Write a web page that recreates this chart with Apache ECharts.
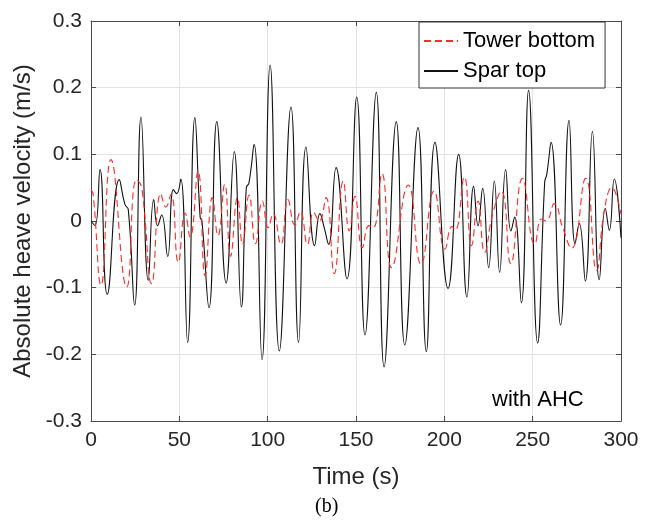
<!DOCTYPE html>
<html>
<head>
<meta charset="utf-8">
<script src="https://cdn.jsdelivr.net/npm/echarts@6/dist/echarts.min.js"></script>
<style>html,body{margin:0;padding:0;background:#fff;}#c{width:652px;height:527px;}</style>
</head>
<body>
<div id="c"></div>
<script>
// Spar top (black solid): [time s, velocity m/s]
const sparTop = [
  [0,0],[2.3,-0.007],[5.1,0.077],[9.2,-0.11],[16.0,0.062],[19.2,0.025],[21.1,0.017],[24.7,-0.126],
  [28.3,0.156],[32.4,-0.089],[35.5,0.032],[37.7,-0.007],[40,0.009],[43.4,-0.053],[46.6,0.047],
  [48.5,0.041],[50.8,0.063],[54.7,-0.182],[58.8,0.155],[61.8,0.005],[62.8,0.0],[66.8,-0.13],
  [71.2,0.149],[76.5,-0.093],[81.1,0.104],[85.1,-0.129],[87.9,0.05],[89.4,0.057],[92.3,0.115],
  [96.8,-0.208],[101.4,0.234],[106.6,-0.195],[113.2,0.171],[117.5,-0.182],[121.7,0.111],
  [126.6,-0.037],[129.6,0.011],[132,-0.01],[134.5,-0.035],[138.7,0.08],[144.9,-0.087],
  [150.4,0.186],[155.1,-0.171],[161.5,0.193],[165.9,-0.219],[172.8,0.149],[177.6,-0.186],
  [185.1,0.14],[189.8,-0.196],[194.7,0.118],[202.1,-0.101],[208.1,0.1],[212.8,-0.114],
  [216.6,0.052],[219.1,-0.007],[221.7,0.049],[225.1,-0.07],[228.3,0.06],[231.3,-0.077],
  [234.7,0.077],[237.7,-0.015],[239.8,0.006],[243.6,-0.123],[247.7,0.196],[252.8,-0.183],
  [256.8,0.058],[258,0.07],[260.4,0.118],[265.8,-0.156],[270.6,0.151],[274,-0.034],
  [276.4,-0.004],[279.8,-0.09],[283.8,0.134],[287.7,-0.088],[291.1,0.019],[293.4,-0.014],
  [296.2,0.063],[300,-0.025]
];
// Tower bottom (red dashed): [time s, velocity m/s]
const towerBottom = [
  [0,0.047],[1.2,0.04],[5.7,-0.096],[11.3,0.092],[20.2,-0.099],[25.7,0.062],[28.7,0.05],
  [34.3,-0.094],[39.5,0.041],[42.4,0.021],[45.3,0.04],[49.4,-0.062],[53.3,0.012],[56.1,-0.024],
  [60.6,0.075],[64.6,-0.082],[68.7,0.035],[71.9,-0.022],[75.7,0.055],[79.0,-0.053],[82.9,0.035],
  [85.8,-0.035],[89.5,0.039],[93.1,-0.034],[97,0.03],[100.3,-0.01],[103.1,0.011],[107.5,-0.035],
  [111.5,0.032],[115.4,-0.006],[118.5,0.014],[122.5,-0.035],[126,0.013],[129.2,0.0],
  [133,0.035],[137.7,-0.079],[142.8,0.06],[146.2,-0.015],[149.4,0.037],[153.6,-0.04],
  [157.4,-0.007],[159.8,-0.01],[164.7,0.071],[170.2,-0.07],[179.6,0.054],[186.8,-0.065],
  [194.2,0.045],[200.4,-0.042],[204.3,-0.008],[206.2,-0.014],[211.3,0.066],[215.4,-0.037],
  [219.1,0.03],[222.8,-0.047],[227.5,0.012],[232.3,0.045],[237.6,-0.064],[244.2,0.064],
  [251.2,-0.035],[255,0.003],[257.5,0.0],[262.3,0.026],[267,-0.01],[272,-0.041],
  [280,0.064],[286.2,-0.074],[290.5,0.015],[294.8,0.05],[300,0.01]
];
const xTicks = {min:0, max:300, step:50};
const yTicks = {min:-0.3, max:0.3, step:0.1};
const seriesNames = ['Tower bottom','Spar top'];

const chart = echarts.init(document.getElementById('c'), null, {renderer:'canvas'});
const axisColor = '#4a4a4a';
const font = 'Liberation Sans, Arial, sans-serif';
const gridLine = {show:true, lineStyle:{color:'#e3e3e3', width:1}};
function xa(pos, labels){
  return {type:'value', position:pos, min:xTicks.min, max:xTicks.max, interval:xTicks.step,
    axisLine:{show:true, onZero:false, lineStyle:{color:axisColor, width:1}},
    axisTick:{show:true, inside:true, length:5, lineStyle:{color:axisColor}},
    axisLabel:{show:labels, margin:9, color:'#262626', fontSize:21, fontFamily:font},
    splitLine: labels ? gridLine : {show:false},
    name: labels ? 'Time (s)' : '', nameLocation:'middle', nameGap:44,
    nameTextStyle:{fontSize:24, color:'#262626', fontFamily:font}};
}
function ya(pos, labels){
  return {type:'value', position:pos, min:yTicks.min, max:yTicks.max, interval:yTicks.step,
    axisLine:{show:true, onZero:false, lineStyle:{color:axisColor, width:1}},
    axisTick:{show:true, inside:true, length:5, lineStyle:{color:axisColor}},
    axisLabel:{show:labels, margin:9, color:'#262626', fontSize:21, fontFamily:font},
    splitLine: labels ? gridLine : {show:false},
    name: labels ? 'Absolute heave velocity (m/s)' : '', nameLocation:'middle', nameGap:53,
    nameTextStyle:{fontSize:24, color:'#262626', fontFamily:font}};
}
chart.setOption({
  animation:false,
  backgroundColor:'#fff',
  grid:{left:91, top:21, width:530, height:400, containLabel:false, outerBoundsMode:'none'},
  xAxis:[xa('bottom', true), xa('top', false)],
  yAxis:[ya('left', true), ya('right', false)],
  legend:{
    data:seriesNames, orient:'vertical', left:419, top:22,
    backgroundColor:'#fff', borderColor:'#333', borderWidth:1, borderRadius:0,
    padding:[6,10,4,4], itemGap:4, itemWidth:34, itemHeight:14,
    itemStyle:{opacity:0},
    textStyle:{fontSize:22, color:'#000', fontFamily:font, lineHeight:26}
  },
  series:[
    {name:seriesNames[0], type:'line', data:towerBottom, smooth:0.5, symbol:'none', showSymbol:false,
     lineStyle:{color:'#ff2a2a', width:1.1, type:[7,4]}, itemStyle:{color:'#ff2a2a'}, z:3},
    {name:seriesNames[1], type:'line', data:sparTop, smooth:0.5, symbol:'none', showSymbol:false,
     lineStyle:{color:'#111', width:1.1}, itemStyle:{color:'#111'}, z:2}
  ],
  graphic:[
    {type:'text', left:492, top:389, style:{text:'with AHC', fontSize:22, fontFamily:font, fill:'#000'}},
    {type:'text', left:315, top:497, style:{text:'(b)', fontSize:20, fontFamily:'Liberation Serif, Times New Roman, serif', fill:'#000'}}
  ]
});
</script>
</body>
</html>
